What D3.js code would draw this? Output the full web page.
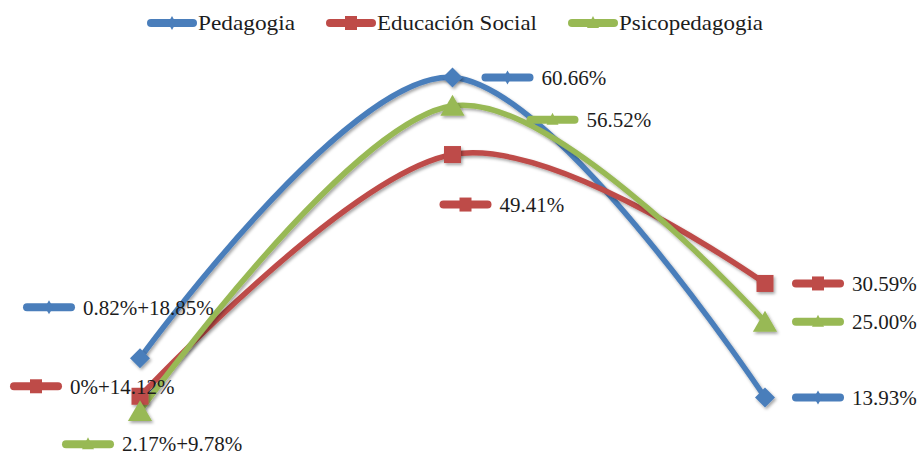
<!DOCTYPE html>
<html><head><meta charset="utf-8">
<script src="https://cdn.jsdelivr.net/npm/d3@7"></script>
</head>
<body style="margin:0;padding:0;background:#fff;">
<svg id="c" width="919" height="454" style="display:block"></svg>
<script>
// ---- data ----
const categories = ["A", "B", "C"];
const seriesNames = ["Pedagogia", "Educación Social", "Psicopedagogia"];
const pedagogia = [19.67, 60.66, 13.93];
const educacionSocial = [14.12, 49.41, 30.59];
const psicopedagogia = [11.95, 56.52, 25.00];
const pedagogiaLabels = ["0.82%+18.85%", "60.66%", "13.93%"];
const educacionSocialLabels = ["0%+14.12%", "49.41%", "30.59%"];
const psicopedagogiaLabels = ["2.17%+9.78%", "56.52%", "25.00%"];

// ---- layout / style ----
const FONT = "Liberation Serif";
const colors = ["#4A7EBB", "#BE4B48", "#98B954"];
const shapes = ["diamond", "square", "triangle"];
// label key start offsets relative to point (layout)
const labelOffsets = [
  [[-117, -51], [29, 0], [27, 0]],
  [[-130, -10], [-13, 50], [27, 0]],
  [[-78, 33], [74, 14], [27, 0]]
];
const series = [
  {name: seriesNames[0], values: pedagogia, labels: pedagogiaLabels},
  {name: seriesNames[1], values: educacionSocial, labels: educacionSocialLabels},
  {name: seriesNames[2], values: psicopedagogia, labels: psicopedagogiaLabels}
];

const svg = d3.select("#c");
const defs = svg.append("defs");
const f = defs.append("filter").attr("id","sh").attr("x","-20%").attr("y","-20%").attr("width","140%").attr("height","140%");
f.append("feDropShadow").attr("dx",1.5).attr("dy",2).attr("stdDeviation",1.4).attr("flood-color","#000").attr("flood-opacity",0.35);

const x = d3.scalePoint().domain(categories).range([140, 765]);
const y = d3.scaleLinear().domain([0, 70]).range([493, 13.5]);

const line = d3.line().x((d,i)=>x(categories[i])).y(d=>y(d)).curve(d3.curveCardinal.tension(0));

function marker(g, shape, cx, cy, s, color){
  if(shape==="diamond"){
    g.append("path").attr("d",`M${cx},${cy-s}L${cx+s},${cy}L${cx},${cy+s}L${cx-s},${cy}Z`).attr("fill",color);
  } else if(shape==="square"){
    g.append("rect").attr("x",cx-s*0.85).attr("y",cy-s*0.85).attr("width",s*1.7).attr("height",s*1.7).attr("fill",color);
  } else {
    g.append("path").attr("d",`M${cx},${cy-s}L${cx+s*1.1},${cy+s*0.9}L${cx-s*1.1},${cy+s*0.9}Z`).attr("fill",color);
  }
}
function keyMarker(g, shape, cx, cy, color){
  if(shape==="diamond"){
    g.append("path").attr("d",`M${cx},${cy-7}L${cx+4},${cy}L${cx},${cy+7}L${cx-4},${cy}Z`).attr("fill",color);
  } else if(shape==="square"){
    g.append("rect").attr("x",cx-6).attr("y",cy-7).attr("width",12).attr("height",14).attr("fill",color);
  } else {
    g.append("path").attr("d",`M${cx},${cy-7}L${cx+6},${cy+5}L${cx-6},${cy+5}Z`).attr("fill",color);
  }
}
function key(g, shape, x0, cy, color, len){
  g.append("line").attr("x1",x0+4).attr("x2",x0+len-4).attr("y1",cy).attr("y2",cy)
    .attr("stroke",color).attr("stroke-width",8).attr("stroke-linecap","round");
  keyMarker(g, shape, x0+len/2, cy, color);
}

// lines
const gl = svg.append("g");
series.forEach((s,si)=>{
  const g = gl.append("g").attr("filter","url(#sh)");
  g.append("path").attr("d", line(s.values)).attr("fill","none").attr("stroke",colors[si]).attr("stroke-width",5.5);
});
// markers
series.forEach((s,si)=>{
  const g = svg.append("g").attr("filter","url(#sh)");
  s.values.forEach((v,i)=>{
    const sz = shapes[si]==="triangle" ? 11 : 10;
    marker(g, shapes[si], x(categories[i]), y(v), sz, colors[si]);
  });
});
// data labels
series.forEach((s,si)=>{
  s.values.forEach((v,i)=>{
    const g = svg.append("g");
    const px = x(categories[i]) + labelOffsets[si][i][0];
    const py = y(v) + labelOffsets[si][i][1];
    key(g, shapes[si], px, py, colors[si], 52);
    g.append("text").attr("x", px+60).attr("y", py).attr("dy","0.35em")
      .attr("font-family", FONT).attr("font-size", 21).attr("fill","#1c1c1c")
      .text(s.labels[i]);
  });
});

// legend
const legendX = [147, 326, 568];
const legendTextLen = [97, 160, 144];
series.forEach((s,si)=>{
  const g = svg.append("g");
  key(g, shapes[si], legendX[si], 23, colors[si], 50);
  g.append("text").attr("x", legendX[si]+51).attr("y", 23).attr("dy","0.35em")
    .attr("textLength", legendTextLen[si]).attr("lengthAdjust","spacingAndGlyphs")
    .attr("font-family", FONT).attr("font-size", 21).attr("fill","#1c1c1c")
    .text(s.name);
});
</script></body></html>
